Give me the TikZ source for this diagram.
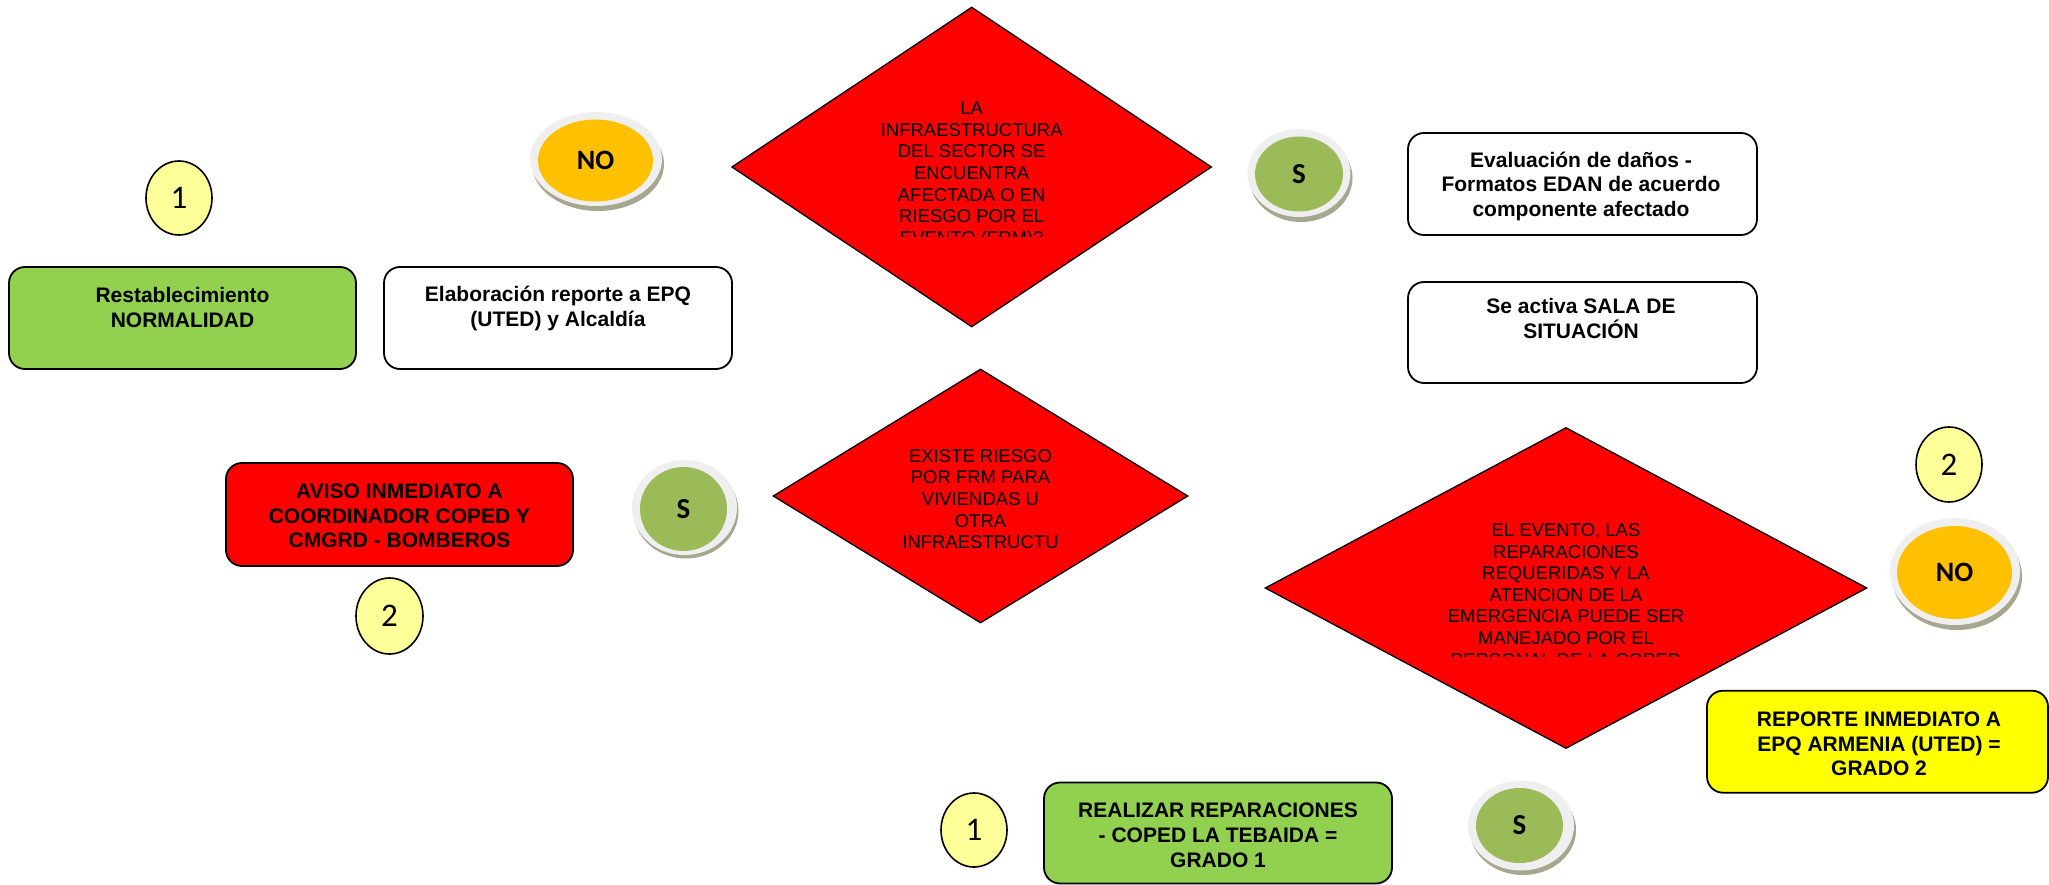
\documentclass[tikz,border=0pt]{standalone}
\usepackage{fontspec}
\setmainfont{Liberation Sans}
\newfontfamily\calib{Carlito}
\usetikzlibrary{shapes.geometric}
\definecolor{redf}{HTML}{FF0000}
\definecolor{greenbox}{HTML}{92D050}
\definecolor{yellowbox}{HTML}{FFFF00}
\definecolor{yellowell}{HTML}{FFFF99}
\definecolor{orangec}{HTML}{FFC000}
\definecolor{greenc}{HTML}{9BBB59}
\definecolor{ringc}{HTML}{EFEFEF}
\definecolor{shadowc}{HTML}{A5A88F}
\tikzset{
  box/.style={rectangle, draw=black, line width=1.8pt, rounded corners=16pt, inner sep=0pt},
  boxtext/.style={anchor=north, align=center, inner sep=0pt, font=\fontsize{21}{24.8}\selectfont\bfseries},
  diam/.style={diamond, draw=black, line width=1.3pt, fill=redf, inner sep=0pt},
  diamtext/.style={anchor=north, align=center, inner sep=0pt, font=\fontsize{18.5}{21.6}\selectfont},
  numell/.style={ellipse, draw=black, line width=1.6pt, fill=yellowell, inner sep=0pt, minimum width=66pt, minimum height=74pt, font=\calib\fontsize{33}{33}\selectfont},
  shadowell/.style={ellipse, fill=shadowc, inner sep=0pt},
  ringell/.style={ellipse, fill=ringc, inner sep=0pt},
  noell/.style={ellipse, fill=orangec, inner sep=0pt, font=\calib\bfseries\fontsize{28}{28}\selectfont},
  sell/.style={ellipse, fill=greenc, inner sep=0pt, font=\calib\bfseries\fontsize{29}{29}\selectfont}
}
\begin{document}
\begin{tikzpicture}[x=1pt,y=-1pt]
\useasboundingbox (0,0) rectangle (2049,885);

% ---------- Diamond 1 ----------
\node[diam, minimum width=480pt, minimum height=320pt] (d1) at (971.7,167) {};
\begin{scope}
\clip (760,60) rectangle (1180,236.7);
\node[diamtext] (d1t) at (971.7,101.7) {LA\\INFRAESTRUCTURA\\DEL SECTOR SE\\ENCUENTRA\\AFECTADA O EN\\RIESGO POR EL\\EVENTO (FRM)?};
\end{scope}

% ---------- Diamond 2 ----------
\node[diam, minimum width=415pt, minimum height=254pt] (d2) at (980.5,496) {};
\node[diamtext] (d2t) at (980.5,449.1) {EXISTE RIESGO\\POR FRM PARA\\VIVIENDAS U\\OTRA\\INFRAESTRUCTU};

% ---------- Diamond 3 ----------
\node[diam, minimum width=602pt, minimum height=321pt] (d3) at (1566,588) {};
\begin{scope}
\clip (1300,480) rectangle (1830,656.7);
\node[diamtext] (d3t) at (1566,523.4) {EL EVENTO, LAS\\REPARACIONES\\REQUERIDAS Y LA\\ATENCION DE LA\\EMERGENCIA PUEDE SER\\MANEJADO POR EL\\PERSONAL DE LA COPED};
\end{scope}

% ---------- Boxes ----------
\node[box, fill=greenbox, minimum width=347pt, minimum height=102pt] (b1) at (182.5,318) {};
\node[boxtext] (b1t) at (182.5,287) {Restablecimiento\\NORMALIDAD};

\node[box, fill=white, minimum width=348pt, minimum height=102pt] (b2) at (558,318) {};
\node[boxtext] (b2t) at (558,286) {Elaboración reporte a EPQ\\(UTED) y Alcaldía};

\node[box, fill=white, minimum width=349pt, minimum height=102pt] (b3) at (1582.5,184) {};
\node[boxtext] (b3t) at (1581,151.5) {Evaluación de daños -\\Formatos EDAN de acuerdo\\componente afectado};

\node[box, fill=white, minimum width=349pt, minimum height=101pt] (b4) at (1582.5,332.5) {};
\node[boxtext] (b4t) at (1581,298.5) {Se activa SALA DE\\SITUACIÓN};

\node[box, fill=redf, minimum width=347pt, minimum height=103pt] (b5) at (399.5,514.5) {};
\node[boxtext] (b5t) at (399.5,483.5) {AVISO INMEDIATO A\\COORDINADOR COPED Y\\CMGRD - BOMBEROS};

\node[box, fill=yellowbox, minimum width=341pt, minimum height=102pt] (b6) at (1877.5,741.7) {};
\node[boxtext] (b6t) at (1879,711.5) {REPORTE INMEDIATO A\\EPQ ARMENIA (UTED) =\\GRADO 2};

\node[box, fill=greenbox, minimum width=348pt, minimum height=101pt] (b7) at (1218,833) {};
\node[boxtext] (b7t) at (1218,803) {REALIZAR REPARACIONES\\- COPED LA TEBAIDA =\\GRADO 1};

% ---------- Numbered ellipses ----------
\node[numell] (n1a) at (179,198) {1};
\node[numell, minimum width=67pt, minimum height=76pt] (n2a) at (389.5,616) {2};
\node[numell, minimum width=66pt, minimum height=75pt] (n2b) at (1949,464.5) {2};
\node[numell, minimum width=66pt, minimum height=74pt] (n1b) at (974,830) {1};

% ---------- NO bubbles ----------
\node[shadowell, minimum width=132pt, minimum height=94pt] (no1s) at (598,164) {};
\node[ringell, minimum width=132pt, minimum height=94pt] (no1r) at (596,159) {};
\node[noell, minimum width=115pt, minimum height=82pt] (no1) at (595.5,160.5) {NO};

\node[shadowell, minimum width=130pt, minimum height=107pt] (no2s) at (1957,576.5) {};
\node[ringell, minimum width=130pt, minimum height=107pt] (no2r) at (1955,571.5) {};
\node[noell, minimum width=115pt, minimum height=93pt] (no2) at (1954.5,572.5) {NO};

% ---------- S bubbles ----------
\node[shadowell, minimum width=103pt, minimum height=88pt] (s1s) at (1301,178) {};
\node[ringell, minimum width=103pt, minimum height=88pt] (s1r) at (1299,173) {};
\node[sell, minimum width=88pt, minimum height=75pt] (s1) at (1299,174) {S};

\node[shadowell, minimum width=105pt, minimum height=95pt] (s2s) at (686,511) {};
\node[ringell, minimum width=105pt, minimum height=95pt] (s2r) at (684.5,507.5) {};
\node[sell, minimum width=87pt, minimum height=84pt] (s2) at (683.5,509) {S};

\node[shadowell, minimum width=106pt, minimum height=90pt] (s3s) at (1523,830) {};
\node[ringell, minimum width=106pt, minimum height=90pt] (s3r) at (1521,825.5) {};
\node[sell, minimum width=87pt, minimum height=75pt] (s3) at (1519.5,825.5) {S};
\end{tikzpicture}
\end{document}
